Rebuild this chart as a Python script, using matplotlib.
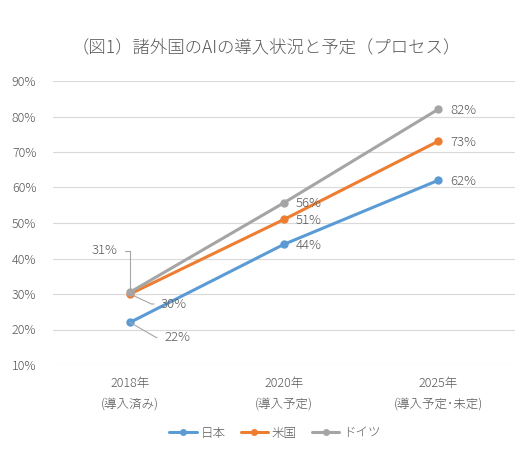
import numpy as np
import matplotlib.pyplot as plt

plt.rcParams['font.family'] = ['Noto Sans CJK JP', 'DejaVu Sans']

categories = ['2018年\n(導入済み)', '2020年\n(導入予定)', '2025年\n(導入予定･未定)']
japan = [22, 44, 62]
usa = [30, 51, 73]
germany = [30.5, 55.7, 82]
series_names = ['日本', '米国', 'ドイツ']
colors = ['#5B9BD5', '#ED7D31', '#A5A5A5']
label_text = [['22%', '44%', '62%'], ['30%', '51%', '73%'], ['31%', '56%', '82%']]

txt = '#595959'
fig = plt.figure(figsize=(5.32, 4.62), dpi=100)
ax = fig.add_axes([53 / 532, 97 / 462, 462 / 532, 284 / 462])

x = np.arange(len(categories))
lines = []
for vals, c, name in zip([japan, usa, germany], colors, series_names):
    ln, = ax.plot(x, vals, color=c, lw=2.2, marker='o', ms=5, label=name,
                  solid_capstyle='round')
    lines.append(ln)

ax.set_xlim(-0.5, 2.5)
ax.set_ylim(10, 90)
ax.set_yticks(np.arange(10, 91, 10))
ax.set_yticklabels([f'{v}%' for v in range(10, 91, 10)])
ax.set_xticks(x)
ax.set_xticklabels(categories, linespacing=1.75)
ax.grid(axis='y', color='#D9D9D9', lw=0.8)
ax.set_axisbelow(True)
for s in ax.spines.values():
    s.set_visible(False)
ax.tick_params(length=0, colors=txt, labelsize=9)
ax.tick_params(axis='y', pad=12)
ax.tick_params(axis='x', pad=9)
for lab in ax.get_xticklabels() + ax.get_yticklabels():
    lab.set_fontweight('light')

lead = dict(arrowstyle='-', color='#A6A6A6', lw=0.8, shrinkA=3, shrinkB=0)
vals_all = [japan, usa, germany]
for si in range(3):
    for i in range(1, 3):
        ax.annotate(label_text[si][i], (x[i], vals_all[si][i]), xytext=(8.6, -0.7),
                    textcoords='offset points', ha='left', va='center',
                    fontsize=9.5, color=txt, fontweight='light')

# 2018 labels with leader lines
ax.annotate(label_text[2][0], (x[0], germany[0]), xytext=(-18, 30),
            textcoords='offset points', ha='center', va='center', fontsize=9.5,
            color=txt, fontweight='light',
            arrowprops=dict(lead, relpos=(1, 0.5),
                            connectionstyle='angle,angleA=0,angleB=90,rad=0'))
ax.annotate(label_text[1][0], (x[0], usa[0]), xytext=(22.3, -7.2),
            textcoords='offset points', ha='left', va='center', fontsize=9.5,
            color=txt, fontweight='light',
            arrowprops=dict(lead, relpos=(0, 0.5),
                            connectionstyle='angle,angleA=0,angleB=-25,rad=0'))
ax.annotate(label_text[0][0], (x[0], japan[0]), xytext=(24.5, -10.8),
            textcoords='offset points', ha='left', va='center', fontsize=9.5,
            color=txt, fontweight='light',
            arrowprops=dict(lead, relpos=(0, 0.5),
                            connectionstyle='angle,angleA=0,angleB=-30,rad=0'))

fig.text(0.5, 1 - 48 / 462, '（図1）諸外国のAIの導入状況と予定（プロセス）',
         ha='center', va='center', fontsize=12.5, color=txt, fontweight='light')

fig.legend(handles=lines, loc='center', bbox_to_anchor=(275 / 532, 1 - 433 / 462),
           ncol=3, frameon=False, labelcolor=txt, handlelength=2.2,
           handletextpad=0.3, columnspacing=1.2, markerscale=0.8,
           prop={'weight': 'light', 'size': 9})

fig.savefig('out.png', dpi=100)
